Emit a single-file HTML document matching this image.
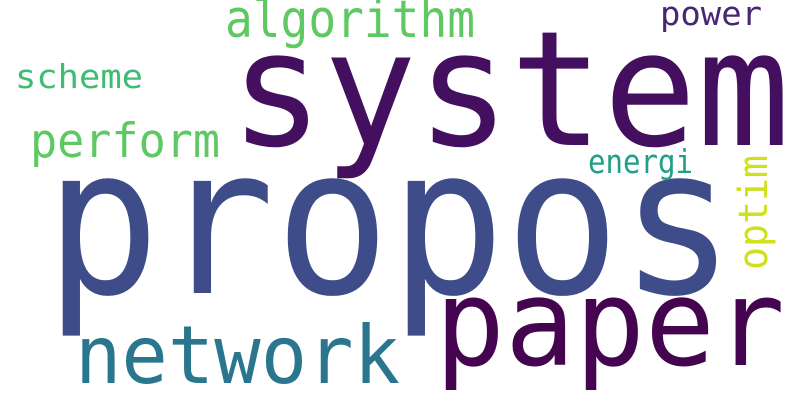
<!DOCTYPE html>
<html><head><meta charset="utf-8"><style>
html,body{margin:0;padding:0;background:#fff;}
svg{display:block;}
text{font-family:"DejaVu Sans Mono","Liberation Mono",monospace;}
</style></head><body>
<svg width="800" height="400" viewBox="0 0 800 400" xmlns="http://www.w3.org/2000/svg">
<rect width="800" height="400" fill="#fff"/>
<text x="230" y="145" font-size="160" fill="#440f5f" textLength="560" lengthAdjust="spacingAndGlyphs">system</text>
<text x="45" y="293" font-size="205" fill="#3e4c8a" textLength="690" lengthAdjust="spacingAndGlyphs">propos</text>
<text x="435" y="365" font-size="120" fill="#45044f" textLength="350" lengthAdjust="spacingAndGlyphs">paper</text>
<text x="75" y="383" font-size="80" fill="#2a768e" textLength="325" lengthAdjust="spacingAndGlyphs">network</text>
<text x="225" y="37" font-size="52" fill="#5ec962" textLength="250" lengthAdjust="spacingAndGlyphs">algorithm</text>
<text x="660" y="25" font-size="33" fill="#482575" textLength="102" lengthAdjust="spacingAndGlyphs">power</text>
<text x="15" y="88" font-size="33" fill="#3fbc73" textLength="128" lengthAdjust="spacingAndGlyphs">scheme</text>
<text x="30" y="157" font-size="47" fill="#5ec962" textLength="190" lengthAdjust="spacingAndGlyphs">perform</text>
<text x="588" y="173" font-size="33" fill="#1fa187" textLength="105" lengthAdjust="spacingAndGlyphs">energi</text>
<text transform="translate(767,270) rotate(-90)" x="0" y="0" font-size="40" fill="#d0e11c" textLength="115" lengthAdjust="spacingAndGlyphs">optim</text>
</svg>
</body></html>
